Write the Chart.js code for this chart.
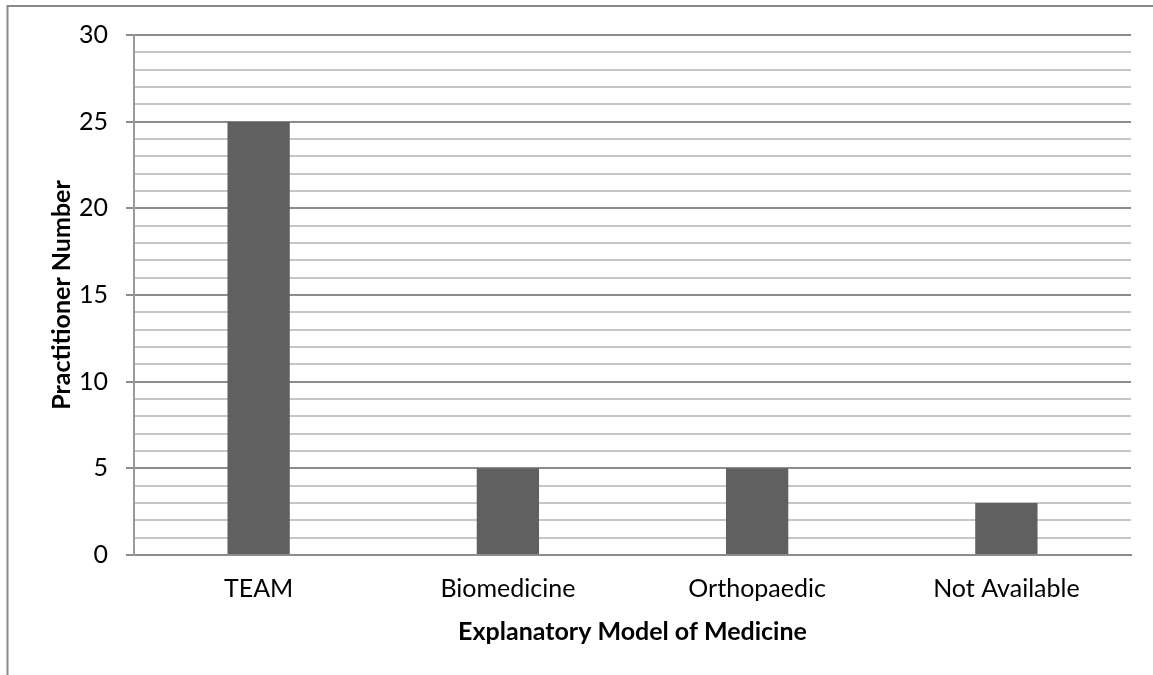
<!DOCTYPE html>
<html>
<head>
<meta charset="utf-8">
<script src="https://cdn.jsdelivr.net/npm/chart.js@4/dist/chart.umd.min.js"></script>
<style>
  html, body { margin: 0; padding: 0; background: #ffffff; }
  #wrap { width: 1153px; height: 675px; }
</style>
</head>
<body>
<div id="wrap"><canvas id="chart" width="1153" height="675"></canvas></div>
<script>
// Practitioners grouped by the explanatory model of medicine they follow
const categories = ['TEAM', 'Biomedicine', 'Orthopaedic', 'Not Available'];
const practitioners = [25, 5, 5, 3];
const yMin = 0;
const yMax = 30;
const yMajorStep = 5;
const xTitle = 'Explanatory Model of Medicine';
const yTitle = 'Practitioner Number';

const FONT = 'Lato, "Open Sans", "DejaVu Sans", sans-serif';

// Thin frame along the left and top edges of the drawing
const framePlugin = {
  id: 'frame',
  beforeDraw(chart) {
    const ctx = chart.ctx;
    ctx.save();
    ctx.strokeStyle = '#8a8a8a';
    ctx.lineWidth = 2;
    ctx.beginPath();
    ctx.moveTo(7.5, chart.height);
    ctx.lineTo(7.5, 6);
    ctx.lineTo(chart.width, 6);
    ctx.stroke();
    ctx.restore();
  }
};

new Chart(document.getElementById('chart'), {
  type: 'bar',
  data: {
    labels: categories,
    datasets: [{
      data: practitioners,
      backgroundColor: '#606060',
      borderWidth: 0,
      categoryPercentage: 1.0,
      barPercentage: 0.25
    }]
  },
  options: {
    responsive: false,
    animation: false,
    devicePixelRatio: 1,
    layout: { padding: { left: 0, top: 35, right: 22, bottom: 0 } },
    plugins: {
      legend: { display: false },
      tooltip: { enabled: false }
    },
    scales: {
      x: {
        grid: { display: false, drawTicks: false },
        border: { display: true, color: '#8c8c8c', width: 2 },
        ticks: {
          color: '#000000',
          font: { family: FONT, size: 25 },
          padding: 19,
          maxRotation: 0,
          autoSkip: false
        },
        title: {
          display: true,
          text: xTitle,
          color: '#000000',
          font: { family: FONT, size: 25, weight: 'bold', lineHeight: 1.2 },
          padding: { top: 0, bottom: 28 }
        },
        afterFit(scale) { scale.height = 120; }
      },
      y: {
        min: yMin,
        max: yMax,
        grid: {
          color: (c) => (c.tick && c.tick.value % yMajorStep === 0) ? '#8c8c8c' : '#c6c6c6',
          lineWidth: 2,
          drawTicks: true,
          tickLength: 8,
          tickColor: (c) => (c.tick && c.tick.value % yMajorStep === 0) ? '#8c8c8c' : 'rgba(0,0,0,0)',
          tickWidth: 2
        },
        border: { display: true, color: '#9a9a9a', width: 2 },
        ticks: {
          stepSize: 1,
          autoSkip: false,
          color: '#000000',
          font: { family: FONT, size: 25 },
          padding: 18,
          callback: (v) => (v % yMajorStep === 0 ? String(v) : '')
        },
        title: {
          display: true,
          text: yTitle,
          color: '#000000',
          font: { family: FONT, size: 25, weight: 'bold', lineHeight: 1.2 },
          padding: { top: 47, bottom: 0 }
        },
        afterFit(scale) { scale.width = 134; }
      }
    }
  },
  plugins: [framePlugin]
});
</script>
</body>
</html>
